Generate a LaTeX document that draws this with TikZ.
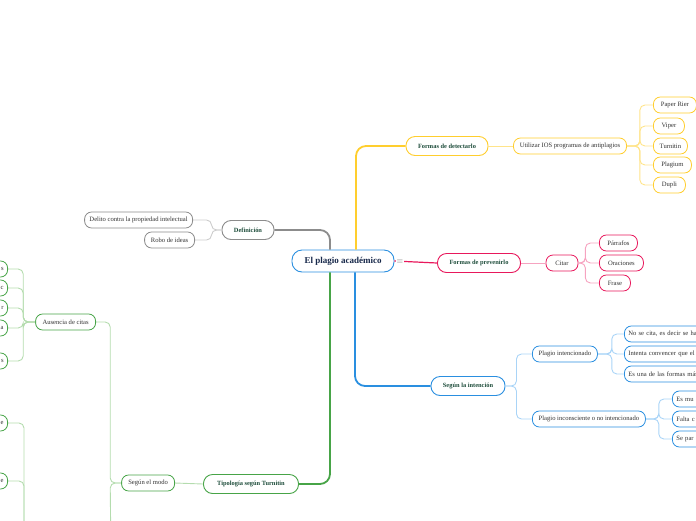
\documentclass[tikz,border=0pt]{standalone}
\usepackage{fontspec}
\setmainfont{Liberation Serif}
\usepackage{tikz}
\usetikzlibrary{positioning}

\definecolor{azul}{HTML}{2A8FE0}
\definecolor{azulclaro}{HTML}{A9D4F7}
\definecolor{gris}{HTML}{8C8C8C}
\definecolor{grisclaro}{HTML}{CCCCCC}
\definecolor{amarillo}{HTML}{FFCE2E}
\definecolor{amarilloclaro}{HTML}{FFE48A}
\definecolor{rosa}{HTML}{E8185C}
\definecolor{rosaclaro}{HTML}{F6A3C0}
\definecolor{verde}{HTML}{47A447}
\definecolor{verdeclaro}{HTML}{B4DCAE}
\definecolor{tinta}{HTML}{17284A}
\definecolor{tintaverde}{HTML}{1E4D3B}
\definecolor{tintagris}{HTML}{333333}

\tikzset{
  tema/.style={draw=azul, line width=0.9pt, rounded corners=10pt, fill=white,
    minimum width=102pt, minimum height=22pt, text=tinta,
    font=\fontsize{9}{10}\selectfont\bfseries},
  rama/.style={line width=0.9pt, rounded corners=9pt, fill=white,
    minimum height=19pt, text=tintaverde,
    font=\fontsize{6.4}{7.5}\selectfont\bfseries},
  hoja/.style={line width=0.8pt, rounded corners=7pt, fill=white,
    minimum height=16pt, inner xsep=4pt, text=tintagris,
    font=\fontsize{6.6}{7.5}\selectfont},
  cortada/.style={hoja, text width=110pt, align=left, anchor=west},
  cortadaizq/.style={hoja, text width=50pt, align=right, anchor=east},
  enlace/.style={line width=1.8pt, rounded corners=10pt},
  sublink/.style={line width=0.9pt, rounded corners=5pt},
}

\begin{document}
\begin{tikzpicture}[x=1pt,y=-1pt]
  \useasboundingbox (0,0) rectangle (696,520);
  \clip (0,0) rectangle (696,520);

  % tema central
  \node[tema] (ctr) at (343,261) {El plagio académico};

  % ramas principales
  \node[rama, draw=gris, minimum width=52pt] (def) at (248,230) {Definición};
  \node[rama, draw=amarillo, minimum width=82pt] (det) at (447,146) {Formas de detectarlo};
  \node[rama, draw=rosa, minimum width=83pt] (prev) at (479,263) {Formas de prevenirlo};
  \node[rama, draw=azul, minimum width=74pt] (int) at (468,386) {Según la intención};
  \node[rama, draw=verde, minimum width=95pt] (tipo) at (251,484) {Tipología según Turnitin};

  % Definicion
  \node[hoja, draw=gris, anchor=east, minimum width=108pt] (delito) at (193,220) {Delito contra la propiedad intelectual};
  \node[hoja, draw=gris, anchor=east, minimum width=50pt] (robo) at (195,240) {Robo de ideas};

  % detectarlo
  \node[hoja, draw=amarillo, minimum width=113pt] (uti) at (570,146) {Utilizar IOS programas de antiplagios};
  \node[hoja, draw=amarillo, anchor=west, minimum width=43pt] (paper) at (653,105) {Paper Rier};
  \node[hoja, draw=amarillo, anchor=west, minimum width=31pt] (viper) at (653,126) {Viper};
  \node[hoja, draw=amarillo, anchor=west, minimum width=34pt] (turn) at (653,146) {Turnitin};
  \node[hoja, draw=amarillo, anchor=west, minimum width=38pt] (plag) at (653,165) {Plagium};
  \node[hoja, draw=amarillo, anchor=west, minimum width=32pt] (dupli) at (653,185) {Dupli};

  % prevenirlo
  \node[hoja, draw=rosa, minimum width=32pt] (citar) at (562,263) {Citar};
  \node[hoja, draw=rosa, anchor=west, minimum width=38pt] (parr) at (599,243) {Párrafos};
  \node[hoja, draw=rosa, anchor=west, minimum width=44pt] (orac) at (599,263) {Oraciones};
  \node[hoja, draw=rosa, anchor=west, minimum width=31pt] (frase) at (599,283) {Frase};

  % intencion
  \node[hoja, draw=azul, anchor=west, minimum width=65pt] (pint) at (532,354) {Plagio intencionado};
  \node[hoja, draw=azul, anchor=west, minimum width=113pt] (pinc) at (532,419) {Plagio inconsciente o no intencionado};
  \node[cortada, draw=azul] (n1) at (624,334) {No se cita, es decir se ha};
  \node[cortada, draw=azul] (n2) at (624,354) {Intenta convencer que el};
  \node[cortada, draw=azul] (n3) at (624,374) {Es una de las formas más};
  \node[cortada, draw=azul] (m1) at (672,399) {Es mu};
  \node[cortada, draw=azul] (m2) at (672,419) {Falta c};
  \node[cortada, draw=azul] (m3) at (672,439) {Se par};

  % tipologia
  \node[hoja, draw=verde, anchor=east, minimum width=53pt] (modo) at (175,483) {Según el modo};
  \node[hoja, draw=verde, anchor=east, minimum width=60pt] (aus) at (96,322) {Ausencia de citas};
  \node[cortadaizq, draw=verde] (a1) at (8,269) {s};
  \node[cortadaizq, draw=verde] (a2) at (8,288) {c};
  \node[cortadaizq, draw=verde] (a3) at (8,308) {r};
  \node[cortadaizq, draw=verde] (a4) at (8,328) {a};
  \node[cortadaizq, draw=verde] (a5) at (8,361) {s};
  \node[cortadaizq, draw=verde] (b1) at (8,423) {e};
  \node[cortadaizq, draw=verde] (b2) at (8,481) {e};
  \coordinate (modobajo) at (111,560);
  \coordinate (grupob) at (24,560);

  % enlaces principales
  \draw[enlace, gris] ([xshift=-13pt]ctr.north) |- (def.east);
  \draw[enlace, amarillo] ([xshift=13pt]ctr.north) |- (det.west);
  \draw[enlace, azul] ([xshift=12pt]ctr.south) |- (int.west);
  \draw[enlace, verde] ([xshift=-13pt]ctr.south) |- (tipo.east);
  \draw[line width=1.2pt, rosa] (ctr.east) -- (prev.west);
  \node[fill=white, inner sep=1pt, text=gris, font=\fontsize{8}{9}\selectfont] (menu) at (400,262) {$\equiv$};

  % enlaces secundarios
  \foreach \h in {delito,robo}
    \draw[sublink, grisclaro] (def.west) -- ++(-10,0) |- (\h.east);
  \draw[sublink, amarilloclaro] (det.east) -- (uti.west);
  \foreach \h in {paper,viper,turn,plag,dupli}
    \draw[sublink, amarilloclaro] (uti.east) -- ++(13,0) |- (\h.west);
  \draw[sublink, rosaclaro] (prev.east) -- (citar.west);
  \foreach \h in {parr,orac,frase}
    \draw[sublink, rosaclaro] (citar.east) -- ++(7,0) |- (\h.west);
  \foreach \h in {pint,pinc}
    \draw[sublink, azulclaro] (int.east) -- ++(11,0) |- (\h.west);
  \foreach \h in {n1,n2,n3}
    \draw[sublink, azulclaro] (pint.east) -- ++(14,0) |- (\h.west);
  \foreach \h in {m1,m2,m3}
    \draw[sublink, azulclaro] (pinc.east) -- ++(13,0) |- (\h.west);
  \draw[sublink, verdeclaro] (tipo.west) -- (modo.east);
  \draw[sublink, verdeclaro] (modo.west) -- ++(-11,0) |- (aus.east);
  \draw[sublink, verdeclaro] (modo.west) -- ++(-11,0) -- (modobajo);
  \foreach \h in {a1,a2,a3,a4,a5}
    \draw[sublink, verdeclaro] (aus.west) -- ++(-12,0) |- (\h.east);
  \foreach \h in {b1,b2}
    \draw[sublink, verdeclaro] (grupob) |- (\h.east);
\end{tikzpicture}
\end{document}
